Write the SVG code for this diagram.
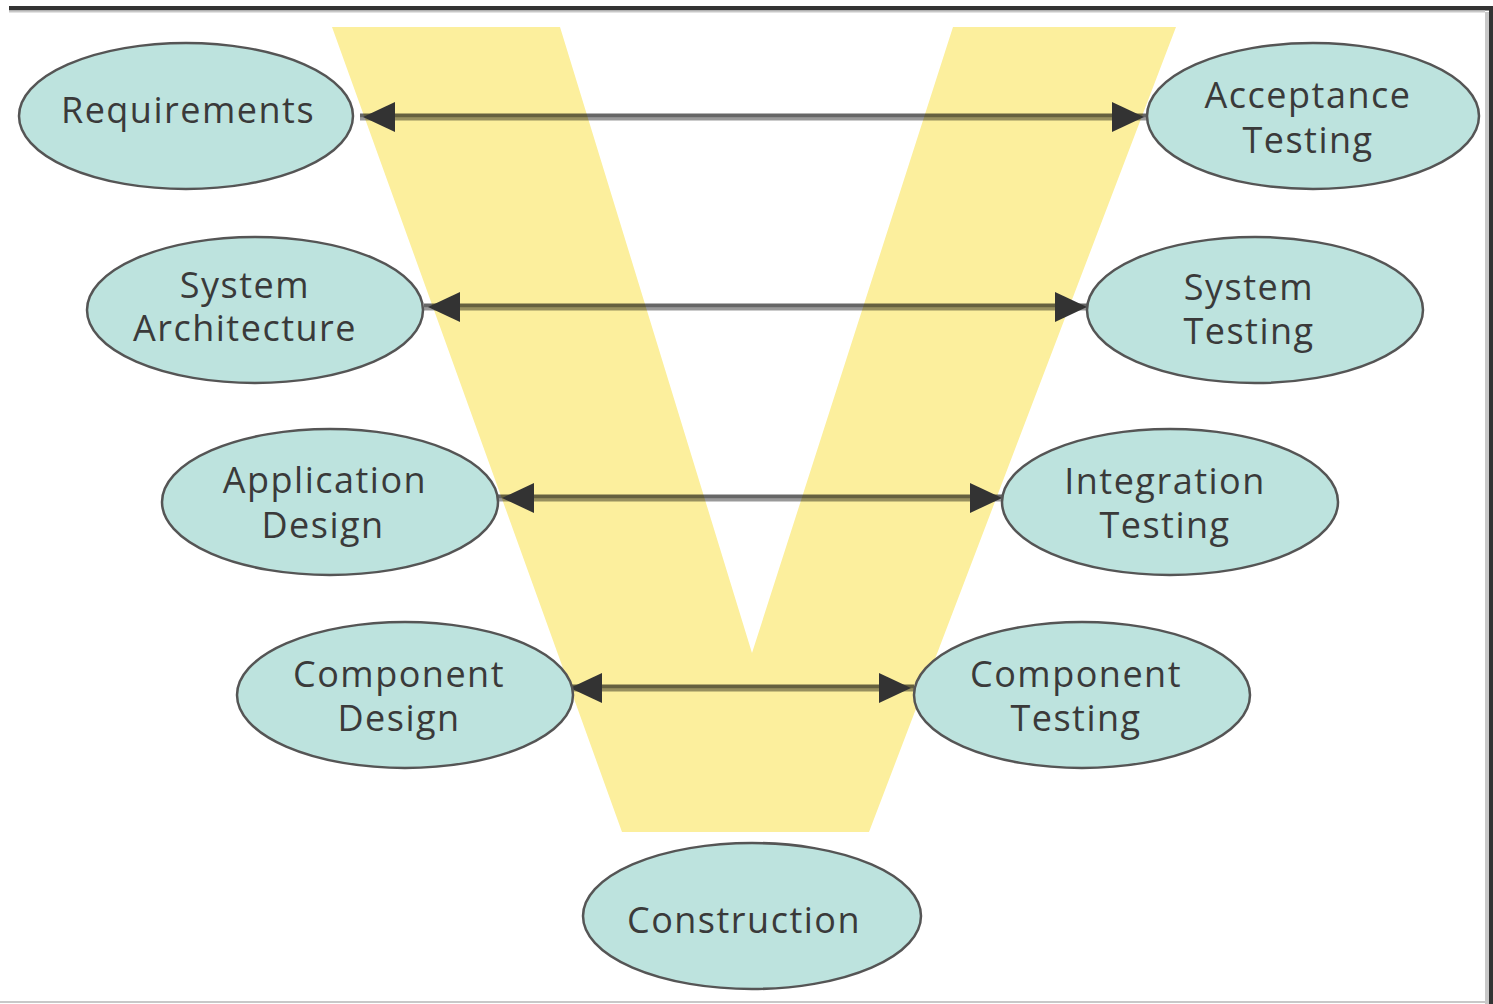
<svg xmlns="http://www.w3.org/2000/svg" width="1493" height="1004" viewBox="0 0 1493 1004">
  <defs>
    <style>
      .node ellipse { fill: #bde3de; stroke: #555; stroke-width: 2.5; }
      .node text { font-family: "Open Sans", "Noto Sans", "Liberation Sans", sans-serif; font-size: 36px; letter-spacing: 1.5px; fill: #3a3a3a; text-anchor: middle; }
      .wire-dark { stroke: #000; stroke-opacity: 0.6; stroke-width: 4; fill: none; }
      .wire-light { stroke: #000; stroke-opacity: 0.4; stroke-width: 3; fill: none; }
      .wire-head { stroke: none; fill: none; marker-start: url(#head); marker-end: url(#head); }
    </style>
    <marker id="head" markerUnits="userSpaceOnUse" markerWidth="32" markerHeight="30" refX="32" refY="15" viewBox="0 0 32 30" orient="auto-start-reverse">
      <path d="M0,0 L32,15 L0,30 Z" fill="#333"/>
    </marker>
  </defs>

  <rect width="1493" height="1004" fill="#fff"/>

  <!-- frame -->
  <rect x="9" y="6" width="1484" height="4.5" fill="#333"/>
  <rect x="9" y="10.5" width="1476" height="2" fill="#c8c8c8"/>
  <rect x="1489" y="6" width="4" height="998" fill="#333"/>
  <rect x="1485" y="12" width="4" height="992" fill="#c8c8c8"/>
  <rect x="0" y="1001" width="1485" height="2" fill="#c8c8c8"/>

  <!-- the V band -->
  <path id="v-band" d="M332,27 L560,27 L752,653 L953,27 L1176,27 L869,832 L622,832 Z" fill="#fcef9d"/>

  <!-- connectors -->
  <g id="connectors">
    <g id="link-requirements-acceptance">
      <line class="wire-dark" x1="360" y1="115.5" x2="1147" y2="115.5"/>
      <line class="wire-light" x1="360" y1="119" x2="1147" y2="119"/>
      <path class="wire-head" d="M363,117 L1144,117"/>
    </g>
    <g id="link-architecture-system">
      <line class="wire-dark" x1="424" y1="305.5" x2="1087" y2="305.5"/>
      <line class="wire-light" x1="424" y1="309" x2="1087" y2="309"/>
      <path class="wire-head" d="M428,307 L1087,307"/>
    </g>
    <g id="link-application-integration">
      <line class="wire-dark" x1="498" y1="496.5" x2="1002" y2="496.5"/>
      <line class="wire-light" x1="498" y1="500" x2="1002" y2="500"/>
      <path class="wire-head" d="M502,498 L1002,498"/>
    </g>
    <g id="link-component-component">
      <line class="wire-dark" x1="570" y1="686.5" x2="914" y2="686.5"/>
      <line class="wire-light" x1="570" y1="690" x2="914" y2="690"/>
      <path class="wire-head" d="M570,688 L911,688"/>
    </g>
  </g>

  <!-- left side: specification -->
  <g id="requirements" class="node">
    <ellipse cx="186" cy="116" rx="167" ry="73"/>
    <text x="188" y="123">Requirements</text>
  </g>
  <g id="system-architecture" class="node">
    <ellipse cx="255" cy="310" rx="168" ry="73"/>
    <text x="245" y="298">System</text>
    <text x="245" y="341">Architecture</text>
  </g>
  <g id="application-design" class="node">
    <ellipse cx="330" cy="502" rx="168" ry="73"/>
    <text x="325" y="493">Application</text>
    <text x="323" y="538">Design</text>
  </g>
  <g id="component-design" class="node">
    <ellipse cx="405" cy="695" rx="168" ry="73"/>
    <text x="399" y="687">Component</text>
    <text x="399" y="731">Design</text>
  </g>

  <!-- right side: verification -->
  <g id="acceptance-testing" class="node">
    <ellipse cx="1313" cy="116" rx="166" ry="73"/>
    <text x="1308" y="108">Acceptance</text>
    <text x="1308" y="153">Testing</text>
  </g>
  <g id="system-testing" class="node">
    <ellipse cx="1255" cy="310" rx="168" ry="73"/>
    <text x="1249" y="300">System</text>
    <text x="1249" y="344">Testing</text>
  </g>
  <g id="integration-testing" class="node">
    <ellipse cx="1170" cy="502" rx="168" ry="73">
    </ellipse>
    <text x="1165" y="494">Integration</text>
    <text x="1165" y="538">Testing</text>
  </g>
  <g id="component-testing" class="node">
    <ellipse cx="1082" cy="695" rx="168" ry="73"/>
    <text x="1076" y="687">Component</text>
    <text x="1076" y="731">Testing</text>
  </g>

  <!-- bottom of the V -->
  <g id="construction" class="node">
    <ellipse cx="752" cy="916" rx="169" ry="73"/>
    <text x="744" y="933">Construction</text>
  </g>
</svg>
